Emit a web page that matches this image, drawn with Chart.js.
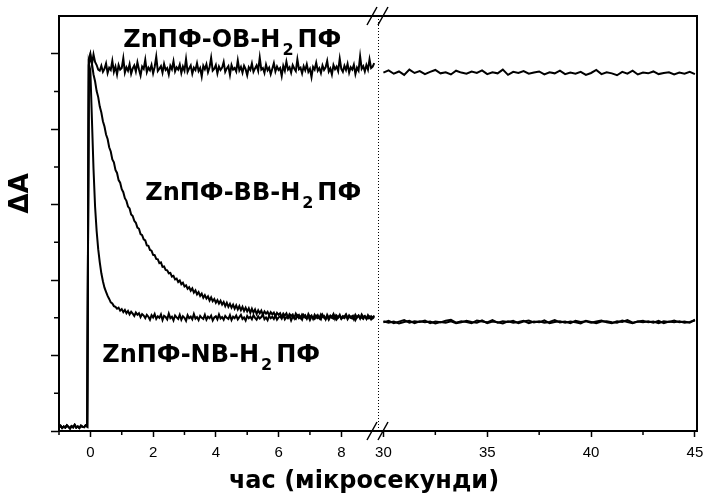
<!DOCTYPE html>
<html>
<head>
<meta charset="utf-8">
<script src="https://cdn.jsdelivr.net/npm/chart.js@4.4.1/dist/chart.umd.min.js"></script>
<style>
  html, body { margin: 0; padding: 0; background: #fff; }
</style>
</head>
<body>
<canvas id="kinetics" width="705" height="504"></canvas>
<script>
// transient absorption, sampled every 0.05 µs before the axis break and every 0.25 µs after it
const leftStart = -1, leftStep = 0.05;
const rightStart = 30, rightStep = 0.25;

const leftTicks = [0, 2, 4, 6, 8];
const rightTicks = [30, 35, 40, 45];
const leftMinorTicks = [-1, 1, 3, 5, 7];
const rightMinorTicks = [32.5, 37.5, 42.5];
const yMajorTicks = [0, 2, 4, 6, 8, 10];
const yMinorTicks = [1, 3, 5, 7, 9];

const obLeft = [
  0.10, 0.14, 0.08, 0.12, 0.09, 0.15, 0.11, 0.07, 0.13, 0.10, 0.16, 0.09, 0.12, 0.08, 0.14, 0.11, 0.10, 0.15, 0.12,
  9.85, 10.0, 9.72, 9.98, 9.78, 9.70, 9.58,
  9.55, 9.68, 9.52, 9.60, 9.74, 9.49, 9.63, 9.57, 9.81, 9.52,
  9.66, 9.45, 9.70, 9.58, 9.62, 9.88, 9.50, 9.64, 9.55, 9.72,
  9.47, 9.61, 9.69, 9.53, 9.77, 9.58, 9.42, 9.66, 9.60, 9.84,
  9.51, 9.63, 9.56, 9.70, 9.48, 9.65, 9.92, 9.54, 9.60, 9.67,
  9.50, 9.73, 9.57, 9.62, 9.45, 9.68, 9.59, 9.80, 9.53, 9.64,
  9.58, 9.71, 9.49, 9.66, 9.55, 9.86, 9.52, 9.61, 9.69, 9.47,
  9.63, 9.57, 9.75, 9.54, 9.62, 9.40, 9.68, 9.59, 9.72, 9.51,
  9.64, 9.89, 9.55, 9.60, 9.70, 9.48, 9.66, 9.57, 9.63, 9.78,
  9.52, 9.61, 9.67, 9.44, 9.70, 9.58, 9.62, 9.53, 9.82, 9.56,
  9.65, 9.50, 9.68, 9.59, 9.43, 9.64, 9.57, 9.74, 9.52, 9.61,
  9.69, 9.55, 9.90, 9.58, 9.62, 9.49, 9.71, 9.56, 9.63, 9.46,
  9.60, 9.75, 9.53, 9.66, 9.57, 9.62, 9.41, 9.68, 9.55, 9.79,
  9.58, 9.64, 9.50, 9.70, 9.61, 9.54, 9.85, 9.59, 9.63, 9.48,
  9.67, 9.56, 9.72, 9.52, 9.60, 9.38, 9.65, 9.58, 9.76, 9.55,
  9.62, 9.49, 9.69, 9.57, 9.64, 9.81, 9.53, 9.61, 9.45, 9.70,
  9.59, 9.66, 9.54, 9.87, 9.60, 9.52, 9.68, 9.57, 9.73, 9.50,
  9.64, 9.58, 9.71, 9.46, 9.63, 9.55, 9.93, 9.60, 9.67, 9.53,
  9.70, 9.58, 9.85, 9.62, 9.66, 9.75
];

const bbLeft = [
  0.10, 0.14, 0.08, 0.12, 0.09, 0.15, 0.11, 0.07, 0.13, 0.10, 0.16, 0.09, 0.12, 0.08, 0.14, 0.11, 0.10, 0.15, 0.12,
  9.70, 9.96, 9.74, 9.45, 9.27,
  9.01, 8.85, 8.60, 8.44, 8.21, 8.07, 7.86, 7.74, 7.52, 7.41,
  7.20, 7.12, 6.92, 6.84, 6.65, 6.58, 6.41, 6.33, 6.17, 6.10,
  5.95, 5.90, 5.74, 5.70, 5.57, 5.52, 5.39, 5.36, 5.22, 5.19,
  5.08, 5.05, 4.92, 4.91, 4.80, 4.78, 4.67, 4.66, 4.56, 4.55,
  4.45, 4.47, 4.35, 4.36, 4.27, 4.26, 4.18, 4.19, 4.09, 4.11,
  4.02, 4.04, 3.95, 3.99, 3.89, 3.93, 3.83, 3.86, 3.77, 3.81,
  3.72, 3.78, 3.67, 3.73, 3.62, 3.68, 3.58, 3.64, 3.53, 3.60,
  3.51, 3.57, 3.46, 3.54, 3.44, 3.50, 3.40, 3.47, 3.38, 3.45,
  3.35, 3.42, 3.31, 3.40, 3.29, 3.37, 3.27, 3.35, 3.24, 3.33,
  3.22, 3.31, 3.20, 3.29, 3.18, 3.27, 3.17, 3.25, 3.13, 3.24,
  3.14, 3.22, 3.10, 3.20, 3.12, 3.19, 3.08, 3.17, 3.11, 3.16,
  3.07, 3.15, 3.09, 3.14, 3.04, 3.13, 3.08, 3.12, 3.02, 3.11,
  3.06, 3.12, 3.01, 3.10, 3.05, 3.09, 2.99, 3.11, 3.04, 3.08,
  3.00, 3.09, 3.03, 3.07, 2.98, 3.10, 3.02, 3.06, 2.97, 3.08,
  3.01, 3.07, 2.99, 3.09, 3.03, 3.05, 2.96, 3.08, 3.00, 3.06,
  3.02, 3.10, 2.97, 3.06, 3.01, 3.08, 2.98, 3.05, 3.03, 3.09,
  2.99, 3.07, 3.02, 3.05, 2.96, 3.08, 3.01, 3.06, 2.98, 3.09,
  3.02, 3.05, 2.97, 3.07, 3.00, 3.04, 2.99, 3.06
];

const nbLeft = [
  0.10, 0.14, 0.08, 0.12, 0.09, 0.15, 0.11, 0.07, 0.13, 0.10, 0.16, 0.09, 0.12, 0.08, 0.14, 0.11, 0.10, 0.15, 0.12,
  9.75, 9.55, 8.25, 6.95, 5.95, 5.30, 4.82, 4.47, 4.18, 3.97, 3.80, 3.69, 3.58, 3.50, 3.41,
  3.38, 3.31, 3.29, 3.24, 3.27, 3.19, 3.23, 3.15, 3.21, 3.12,
  3.18, 3.09, 3.16, 3.11, 3.05, 3.14, 3.08, 3.12, 3.02, 3.10,
  3.06, 2.99, 3.08, 3.03, 2.95, 3.07, 3.01, 3.10, 2.97, 3.04,
  3.00, 3.09, 2.94, 3.05, 3.02, 2.96, 3.11, 2.99, 3.03, 2.93,
  3.06, 3.01, 2.97, 3.08, 2.95, 3.04, 3.00, 2.92, 3.07, 2.99,
  3.03, 2.96, 3.10, 2.98, 3.02, 2.94, 3.05, 3.00, 2.97, 3.08,
  2.95, 3.03, 2.99, 3.06, 2.93, 3.01, 3.04, 2.96, 3.09, 2.98,
  3.02, 2.95, 3.05, 3.00, 2.97, 3.07, 2.94, 3.03, 2.99, 3.06,
  2.96, 3.02, 3.08, 2.97, 3.01, 2.93, 3.05, 2.99, 3.03, 2.96,
  3.07, 3.00, 2.95, 3.04, 2.98, 3.02, 3.09, 2.96, 3.01, 2.94,
  3.05, 2.99, 3.03, 2.97, 3.06, 2.95, 3.01, 3.04, 2.98, 3.08,
  2.96, 3.02, 2.99, 3.05, 2.93, 3.03, 3.00, 2.97, 3.06, 2.99,
  3.02, 2.95, 3.07, 3.00, 2.98, 3.04, 2.94, 3.03, 3.01, 2.97,
  3.05, 2.99, 3.02, 2.96, 3.08, 3.00, 2.97, 3.04, 2.95, 3.03,
  3.00, 2.98, 3.06, 2.96, 3.02, 3.05, 2.97, 3.01, 2.99, 3.07,
  2.96, 3.03, 3.00, 2.98, 3.05, 2.94, 3.02, 3.06, 2.99, 3.01,
  2.97, 3.04, 3.00, 2.98, 3.03, 2.96, 3.02, 2.99
];

const obRight = [
  9.50, 9.56, 9.47, 9.53, 9.44, 9.58, 9.49, 9.54, 9.46, 9.52,
  9.57, 9.48, 9.51, 9.45, 9.55, 9.50, 9.47, 9.53, 9.49, 9.56,
  9.46, 9.51, 9.48, 9.58, 9.44, 9.52, 9.49, 9.54, 9.47, 9.50,
  9.53, 9.45, 9.51, 9.48, 9.55, 9.46, 9.50, 9.47, 9.52, 9.44,
  9.49, 9.57, 9.46, 9.51, 9.48, 9.43, 9.52, 9.47, 9.55, 9.45,
  9.50, 9.48, 9.53, 9.46, 9.49, 9.51, 9.45, 9.50, 9.47, 9.52, 9.46
];

const bbRight = [
  2.88, 2.92, 2.86, 2.90, 2.94, 2.87, 2.91, 2.89, 2.93, 2.86,
  2.90, 2.88, 2.92, 2.95, 2.87, 2.91, 2.89, 2.86, 2.93, 2.90,
  2.88, 2.94, 2.87, 2.91, 2.89, 2.92, 2.86, 2.90, 2.93, 2.88,
  2.91, 2.87, 2.89, 2.94, 2.88, 2.90, 2.86, 2.92, 2.89, 2.91,
  2.87, 2.90, 2.93, 2.88, 2.86, 2.91, 2.89, 2.94, 2.87, 2.90,
  2.92, 2.88, 2.90, 2.86, 2.91, 2.89, 2.93, 2.88, 2.90, 2.87, 2.95
];

const nbRight = [
  2.91, 2.87, 2.90, 2.85, 2.89, 2.92, 2.86, 2.91, 2.88, 2.90,
  2.85, 2.89, 2.87, 2.91, 2.86, 2.88, 2.92, 2.89, 2.87, 2.93,
  2.86, 2.90, 2.88, 2.85, 2.91, 2.87, 2.89, 2.92, 2.86, 2.90,
  2.88, 2.93, 2.86, 2.89, 2.91, 2.87, 2.90, 2.88, 2.85, 2.92,
  2.89, 2.86, 2.90, 2.91, 2.88, 2.87, 2.93, 2.89, 2.86, 2.90,
  2.88, 2.91, 2.87, 2.92, 2.86, 2.90, 2.88, 2.91, 2.87, 2.89, 2.93
];

const bridges = ['OB', 'BB', 'NB'];

// sample times for each side of the break
const leftTimes = obLeft.map((_, i) => +(leftStart + i * leftStep).toFixed(2));
const rightTimes = obRight.map((_, i) => +(rightStart + i * rightStep).toFixed(2));

const toPoints = (times, values) => values.map((v, i) => ({ x: times[i], y: v }));

const trace = (name, times, values, axis) => ({
  label: `ZnПФ-${name}-H2ПФ`,
  data: toPoints(times, values),
  xAxisID: axis,
  borderColor: "#000",
  borderWidth: 2,
  pointRadius: 0,
  tension: 0,
});

const font = '"DejaVu Sans", sans-serif';

// where each formula label sits, in data units of the left panel
const labelSpots = {
  OB: { t: 1.05, v: 10.18 },
  BB: { t: 1.75, v: 6.12 },
  NB: { t: 0.38, v: 1.83 },
};

const drawFormula = (ctx, x, y, bridge) => {
  const head = `ZnПФ-${bridge}-H`;
  ctx.font = `bold 24px ${font}`;
  ctx.fillText(head, x, y);
  let cx = x + ctx.measureText(head).width + 2;
  ctx.font = `bold 16px ${font}`;
  ctx.fillText("2", cx, y + 8);
  cx += ctx.measureText("2").width + 4;
  ctx.font = `bold 24px ${font}`;
  ctx.fillText("ПФ", cx, y);
};

const decorations = {
  id: "decorations",
  afterDatasetsDraw(chart) {
    const { ctx, chartArea: a, scales } = chart;
    const { x1, x2, y } = scales;
    const brk = x1.right;
    ctx.save();
    ctx.strokeStyle = "#000";
    ctx.fillStyle = "#000";

    // top and right edges of the frame
    ctx.lineWidth = 2;
    ctx.beginPath();
    ctx.moveTo(a.left, a.top);
    ctx.lineTo(a.right, a.top);
    ctx.lineTo(a.right, a.bottom);
    ctx.stroke();

    // minor ticks
    ctx.lineWidth = 1.5;
    ctx.beginPath();
    yMinorTicks.forEach((v) => {
      const py = y.getPixelForValue(v);
      ctx.moveTo(a.left - 5, py);
      ctx.lineTo(a.left, py);
    });
    leftMinorTicks.forEach((v) => {
      const px = x1.getPixelForValue(v);
      ctx.moveTo(px, a.bottom);
      ctx.lineTo(px, a.bottom + 4);
    });
    rightMinorTicks.forEach((v) => {
      const px = x2.getPixelForValue(v);
      ctx.moveTo(px, a.bottom);
      ctx.lineTo(px, a.bottom + 4);
    });
    ctx.stroke();

    // dotted line at the break
    ctx.lineWidth = 1;
    ctx.setLineDash([1, 2]);
    ctx.beginPath();
    ctx.moveTo(brk + 0.5, a.top);
    ctx.lineTo(brk + 0.5, a.bottom);
    ctx.stroke();
    ctx.setLineDash([]);

    // "//" break marks on both horizontal edges
    ctx.lineWidth = 1.5;
    ctx.beginPath();
    [a.top, a.bottom].forEach((ey) => {
      [-6, 5].forEach((dx) => {
        ctx.moveTo(brk + dx - 5, ey + 9);
        ctx.lineTo(brk + dx + 5, ey - 9);
      });
    });
    ctx.stroke();

    // formula labels
    ctx.textAlign = "left";
    ctx.textBaseline = "alphabetic";
    bridges.forEach((b) => {
      const s = labelSpots[b];
      drawFormula(ctx, x1.getPixelForValue(s.t), y.getPixelForValue(s.v), b);
    });

    // axis titles
    ctx.textAlign = "center";
    ctx.textBaseline = "middle";
    ctx.font = `bold 24px ${font}`;
    ctx.fillText("час (мікросекунди)", (a.left + a.right) / 2 - 14, a.bottom + 51);

    ctx.save();
    ctx.translate(a.left - 38, y.getPixelForValue(6.3));
    ctx.rotate(-Math.PI / 2);
    ctx.font = `bold 26px ${font}`;
    ctx.fillText("ΔA", 0, 0);
    ctx.restore();

    ctx.restore();
  },
};

const xAxis = (min, max, tickValues) => ({
  type: "linear",
  position: "bottom",
  stack: "time",
  stackWeight: 1,
  min,
  max,
  afterBuildTicks: (scale) => {
    scale.ticks = tickValues.map((value) => ({ value }));
  },
  // end labels may hang past the frame, the page margin has room for them
  afterFit: (scale) => {
    scale.paddingLeft = 0;
    scale.paddingRight = 0;
  },
  grid: {
    drawOnChartArea: false,
    tickLength: 6,
    tickWidth: 1.5,
    tickColor: "#000",
  },
  border: { color: "#000", width: 2 },
  ticks: {
    color: "#000",
    font: { family: "Liberation Sans", size: 15 },
    padding: 7,
    maxRotation: 0,
    autoSkip: false,
  },
});

new Chart(document.getElementById("kinetics"), {
  type: "line",
  data: {
    datasets: [
      trace("OB", leftTimes, obLeft, "x1"),
      trace("BB", leftTimes, bbLeft, "x1"),
      trace("NB", leftTimes, nbLeft, "x1"),
      trace("OB", rightTimes, obRight, "x2"),
      trace("BB", rightTimes, bbRight, "x2"),
      trace("NB", rightTimes, nbRight, "x2"),
    ],
  },
  options: {
    responsive: false,
    animation: false,
    layout: { padding: { left: 51, top: 16, right: 8, bottom: 35 } },
    plugins: {
      legend: { display: false },
      tooltip: { enabled: false },
    },
    scales: {
      x1: xAxis(-1, 9.17, leftTicks),
      x2: xAxis(29.74, 45.1, rightTicks),
      y: {
        type: "linear",
        position: "left",
        min: 0,
        max: 11,
        afterBuildTicks: (scale) => {
          scale.ticks = yMajorTicks.map((value) => ({ value }));
        },
        ticks: { display: false },
        grid: {
          drawOnChartArea: false,
          tickLength: 8,
          tickWidth: 1.5,
          tickColor: "#000",
        },
        border: { color: "#000", width: 2 },
      },
    },
  },
  plugins: [decorations],
});
</script>
</body>
</html>
